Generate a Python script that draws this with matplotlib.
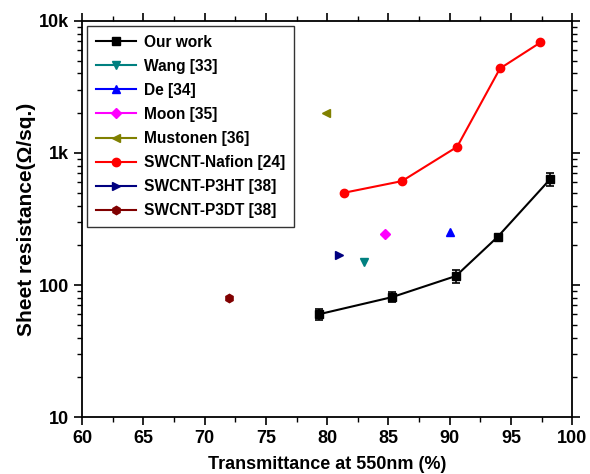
import matplotlib.pyplot as plt
from matplotlib.ticker import FixedLocator, LogLocator, NullFormatter

plt.rcParams['font.family'] = ['Liberation Sans', 'DejaVu Sans']
plt.rcParams['font.weight'] = 'bold'

# Our work
our_T = [79.3, 85.3, 90.5, 93.9, 98.2]
our_R = [60, 81, 117, 231, 634]
our_err = [6, 7, 13, 8, 75]

# SWCNT-Nafion [24]
naf_T = [81.4, 86.1, 90.6, 94.1, 97.4]
naf_R = [500, 612, 1112, 4360, 6860]

# single literature points
wang_T, wang_R = [83.0], [150]
de_T, de_R = [90.0], [250]
moon_T, moon_R = [84.7], [245]
must_T, must_R = [79.9], [1990]
p3ht_T, p3ht_R = [81.0], [168]
p3dt_T, p3dt_R = [72.0], [80]

fig = plt.figure(figsize=(5.9, 4.74), dpi=100)
ax = fig.add_axes([0.139, 0.12, 0.831, 0.836])

# error bars drawn separately so the legend handle is plain line + marker
ax.errorbar(our_T, our_R, yerr=our_err, fmt='none', ecolor='black',
            capsize=3, elinewidth=1.2, capthick=1.2)
ax.plot(our_T, our_R, color='black', marker='s', ms=5.5, lw=1.5, label='Our work')
ax.plot(wang_T, wang_R, color='#008080', marker='v', ms=6, lw=1.5, label='Wang [33]')
ax.plot(de_T, de_R, color='#0000FF', marker='^', ms=6, lw=1.5, label='De [34]')
ax.plot(moon_T, moon_R, color='#FF00FF', marker='D', ms=5, lw=1.5, label='Moon [35]')
ax.plot(must_T, must_R, color='#808000', marker='<', ms=6, lw=1.5, label='Mustonen [36]')
ax.plot(naf_T, naf_R, color='#FF0000', marker='o', ms=6, lw=1.5, label='SWCNT-Nafion [24]')
ax.plot(p3ht_T, p3ht_R, color='#000080', marker='>', ms=6, lw=1.5, label='SWCNT-P3HT [38]')
ax.plot(p3dt_T, p3dt_R, color='#800000', marker='h', ms=6, lw=1.5, label='SWCNT-P3DT [38]')

ax.set_yscale('log')
ax.set_xlim(60, 100)
ax.set_ylim(10, 10000)
ax.set_xticks(range(60, 101, 5))
ax.xaxis.set_minor_locator(FixedLocator([62.5 + 5 * i for i in range(8)]))
ax.set_yticks([10, 100, 1000, 10000])
ax.set_yticklabels(['10', '100', '1k', '10k'])
ax.yaxis.set_minor_locator(LogLocator(base=10, subs=range(2, 10)))
ax.yaxis.set_minor_formatter(NullFormatter())

ax.tick_params(which='both', direction='out', top=True, right=True, labeltop=False, labelright=False)
ax.tick_params(which='major', length=6, width=1.2, labelsize=13)
ax.tick_params(which='minor', length=3.5, width=1)
for s in ax.spines.values():
    s.set_linewidth(1.3)

ax.set_xlabel('Transmittance at 550nm (%)', fontsize=13, fontweight='bold', labelpad=6)
ax.set_ylabel('Sheet resistance(\u03a9/sq.)', fontsize=15, fontweight='bold', labelpad=2)

leg = ax.legend(loc='upper left', fontsize=11.2, frameon=True, fancybox=False,
                edgecolor='black', handlelength=2.6, handletextpad=0.5,
                borderaxespad=0.35, labelspacing=0.58, borderpad=0.55)
leg.get_frame().set_linewidth(1.0)

fig.savefig('out.png', dpi=100)
